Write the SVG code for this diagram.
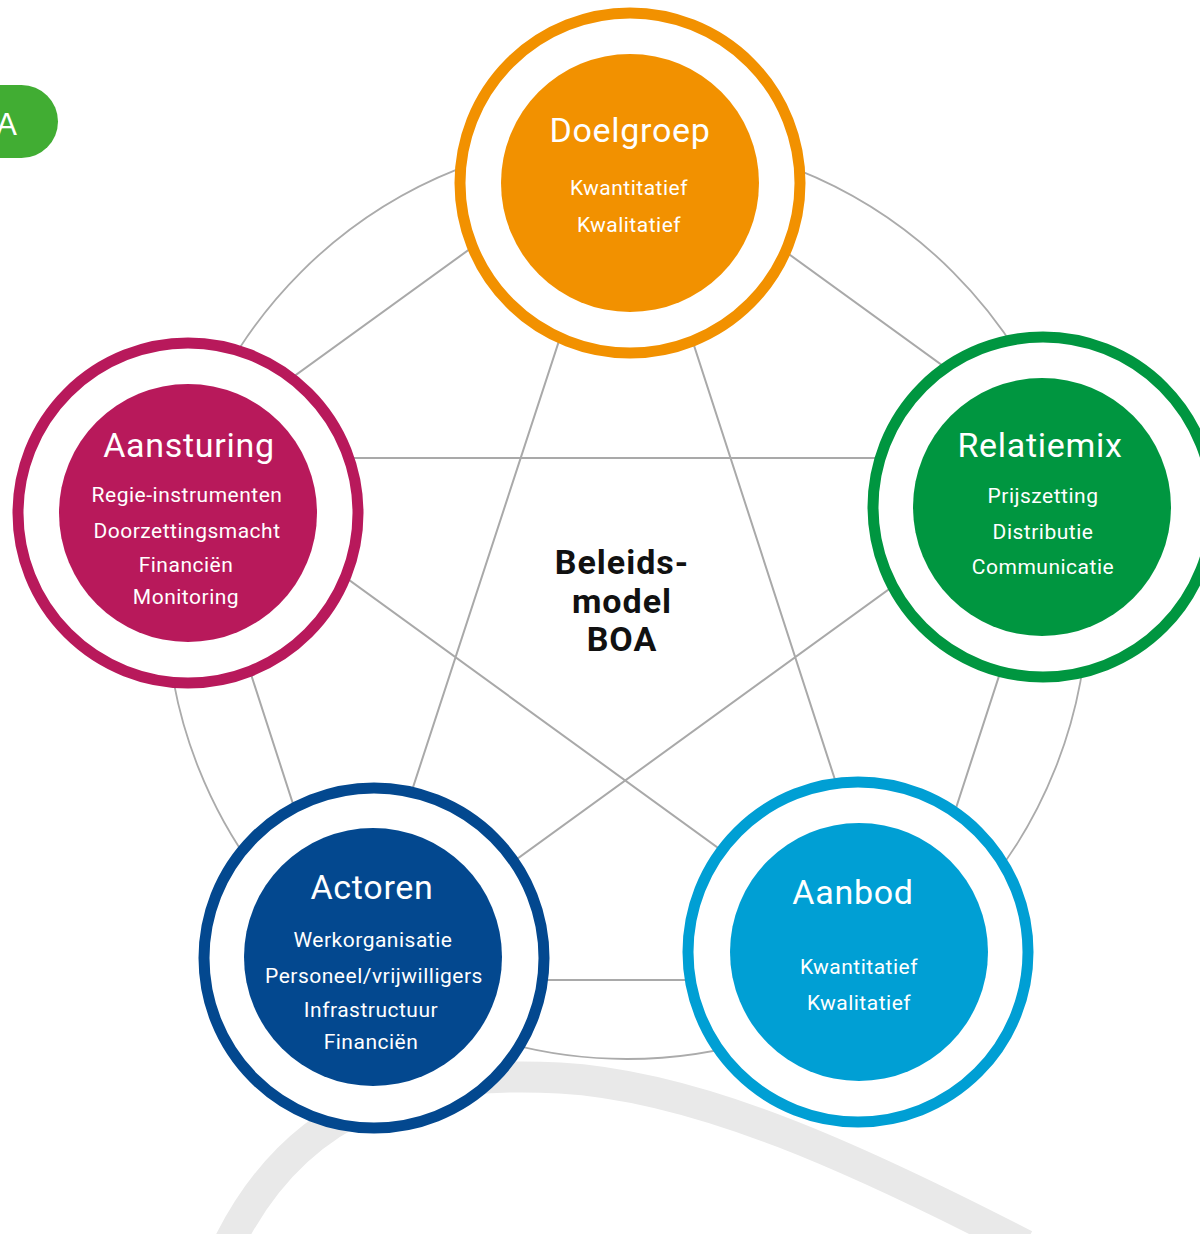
<svg xmlns="http://www.w3.org/2000/svg" width="1200" height="1234" viewBox="0 0 1200 1234">
<style>
.bg{fill:#ffffff}
.swoosh{fill:none;stroke:#e9e9e9;stroke-width:31}
.con{fill:none;stroke:#a9a9a9;stroke-width:2}
.arc{fill:none;stroke:#ababab;stroke-width:1.8}
.ring{fill:#ffffff;stroke-width:11}
.title{font-family:Roboto,"Liberation Sans",sans-serif;font-size:34px;fill:#ffffff;text-anchor:middle;letter-spacing:0.7px}
.sub{font-family:Roboto,"Liberation Sans",sans-serif;font-size:21px;fill:#ffffff;text-anchor:middle;letter-spacing:0.5px}
.center{font-family:Roboto,"Liberation Sans",sans-serif;font-size:34px;font-weight:bold;fill:#111111;text-anchor:middle;letter-spacing:1px}
</style>
<rect class="bg" x="0" y="0" width="1200" height="1234"/>
<path class="swoosh" d="M 228 1245 C 300 1100, 420 1070, 560 1078 C 700 1086, 860 1160, 1025 1245"/>
<g id="connectors">
  <circle class="arc" cx="627" cy="598" r="461"/>
  <polygon class="con" points="626,136 1070,458 900,980 350,980 181,458"/>
  <polygon class="con" points="626,136 900,980 181,458 1070,458 350,980"/>
</g>
<g id="badge">
  <rect x="-60" y="85" width="118" height="73" rx="36.5" fill="#41ad33"/>
  <text x="17" y="135" font-family="'Liberation Sans',Arial,sans-serif" font-size="31" fill="#ffffff" text-anchor="end">A</text>
</g>
<g id="doelgroep">
  <circle class="ring" cx="630" cy="183" r="170" stroke="#f29100"/>
  <circle cx="630" cy="183" r="129" fill="#f29100"/>
  <text class="title" x="630" y="142">Doelgroep</text>
  <text class="sub" x="629" y="195">Kwantitatief</text>
  <text class="sub" x="629" y="232">Kwalitatief</text>
</g>
<g id="aansturing">
  <circle class="ring" cx="188" cy="513" r="170" stroke="#b8195b"/>
  <circle cx="188" cy="513" r="129" fill="#b8195b"/>
  <text class="title" x="189" y="457">Aansturing</text>
  <text class="sub" x="187" y="502">Regie-instrumenten</text>
  <text class="sub" x="187" y="538">Doorzettingsmacht</text>
  <text class="sub" x="186" y="572">Financiën</text>
  <text class="sub" x="186" y="604">Monitoring</text>
</g>
<g id="relatiemix">
  <circle class="ring" cx="1043" cy="507" r="170" stroke="#009640"/>
  <circle cx="1042" cy="507" r="129" fill="#009640"/>
  <text class="title" x="1040" y="457">Relatiemix</text>
  <text class="sub" x="1043" y="503">Prijszetting</text>
  <text class="sub" x="1043" y="539">Distributie</text>
  <text class="sub" x="1043" y="574">Communicatie</text>
</g>
<g id="aanbod">
  <circle class="ring" cx="858" cy="952" r="170" stroke="#009fd4"/>
  <circle cx="859" cy="952" r="129" fill="#009fd4"/>
  <text class="title" x="853" y="904">Aanbod</text>
  <text class="sub" x="859" y="974">Kwantitatief</text>
  <text class="sub" x="859" y="1010">Kwalitatief</text>
</g>
<g id="actoren">
  <circle class="ring" cx="374" cy="958" r="170" stroke="#03488f"/>
  <circle cx="373" cy="957" r="129" fill="#03488f"/>
  <text class="title" x="372" y="899">Actoren</text>
  <text class="sub" x="373" y="947">Werkorganisatie</text>
  <text class="sub" x="374" y="983">Personeel/vrijwilligers</text>
  <text class="sub" x="371" y="1017">Infrastructuur</text>
  <text class="sub" x="371" y="1049">Financiën</text>
</g>
<g id="center-label">
  <text class="center" x="622" y="574">Beleids-</text>
  <text class="center" x="622" y="613">model</text>
  <text class="center" x="622" y="651">BOA</text>
</g>
</svg>
